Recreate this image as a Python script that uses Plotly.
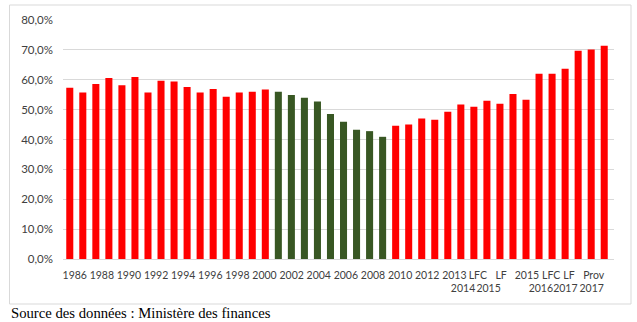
import plotly.graph_objects as go

# ---- data ----
categories = [str(y) for y in range(1985, 2013)] + [
    "2013", "LFC 2014", "2014", "LF 2015", "LFC 2015", "2015", "LF 2016",
    "LFC 2016", "2016", "LF 2017", "LFC 2017", "Prov 2017 a", "Prov 2017 b", "Prov 2017",
]
values = [
    57.3, 55.7, 58.6, 60.6, 58.2, 60.9, 55.7, 59.7, 59.4, 57.6,
    55.7, 56.9, 54.3, 55.7, 56.0, 56.7, 56.0, 54.9, 54.0, 52.7,
    48.5, 45.9, 43.3, 42.8, 40.9, 44.6, 45.0, 47.0, 46.6, 49.3,
    51.7, 51.0, 53.0, 52.0, 55.2, 53.3, 62.0, 62.0, 63.7, 69.7,
    70.1, 71.4,
]
green_period = [str(y) for y in range(2001, 2010)]

# axis tick labels (text)
tick_text = [
    "1986", "1988", "1990", "1992", "1994", "1996", "1998", "2000",
    "2002", "2004", "2006", "2008", "2010", "2012", "2013",
    "LFC", "LF", "2015", "LFC", "LF", "Prov",
    "2014", "2015", "2016", "2017", "2017",
]
y_ticks = [0, 0.1, 0.2, 0.3, 0.4, 0.5, 0.6, 0.7, 0.8]

# ---- styling / layout positions ----
RED = "#FF0000"
GREEN = "#385723"
colors = [GREEN if c in green_period else RED for c in categories]

left_pos = [0.38 + 2.08 * k for k in range(15)]
top_right_pos = [31.3, 33.09, 35.07, 36.93, 38.3, 40.19]
bottom_right_pos = [30.17, 32.13, 36.14, 38.02, 40.04]
tick_vals = left_pos + top_right_pos + bottom_right_pos
n_single = 15 + len(top_right_pos)
tick_labels = [t if i < n_single else "\u00a0<br>" + t for i, t in enumerate(tick_text)]

W, H = 637, 322
L, R, T, B = 63, 614, 20, 259

fig = go.Figure(
    go.Bar(
        x=categories,
        y=[v / 100 for v in values],
        marker=dict(color=colors, line=dict(width=0)),
        hoverinfo="skip",
    )
)


def px_to_paper_x(px):
    return (px - L) / (R - L)


def px_to_paper_y(py):
    return (B - py) / (B - T)


fig.update_layout(
    width=W,
    height=H,
    margin=dict(l=L, r=W - R, t=T, b=H - B, pad=0),
    paper_bgcolor="white",
    plot_bgcolor="white",
    separators=", ",
    bargap=0.46,
    showlegend=False,
    font=dict(family="Lato", color="#404040"),
    xaxis=dict(
        type="category",
        range=[-0.52, 41.75],
        tickmode="array",
        tickvals=tick_vals,
        ticktext=tick_labels,
        tickangle=0,
        showgrid=False,
        showline=True,
        linecolor="#d9d9d9",
        linewidth=1,
        ticks="",
        tickfont=dict(size=10.5, family="Lato", color="#404040"),
        ticklabelstandoff=6,
        fixedrange=True,
    ),
    yaxis=dict(
        range=[0, 0.8],
        tickmode="array",
        tickvals=y_ticks,
        tickformat=".1%",
        showgrid=True,
        gridcolor="#d9d9d9",
        gridwidth=1,
        zeroline=False,
        showline=False,
        ticks="",
        tickfont=dict(size=11.5, family="Lato", color="#404040"),
        ticklabelstandoff=9,
        fixedrange=True,
    ),
    shapes=[
        dict(
            type="rect",
            xref="paper",
            yref="paper",
            x0=px_to_paper_x(9.5),
            x1=px_to_paper_x(631),
            y0=px_to_paper_y(304),
            y1=px_to_paper_y(5),
            line=dict(color="#d9d9d9", width=1),
            fillcolor="rgba(0,0,0,0)",
            layer="below",
        )
    ],
    annotations=[
        dict(
            text="Source des données : Ministère des finances",
            xref="paper",
            yref="paper",
            x=px_to_paper_x(9),
            y=px_to_paper_y(312.5),
            xanchor="left",
            yanchor="middle",
            showarrow=False,
            font=dict(family="Liberation Serif", size=14.7, color="black"),
        )
    ],
)

fig.write_html("out.html", config={"displayModeBar": False})
